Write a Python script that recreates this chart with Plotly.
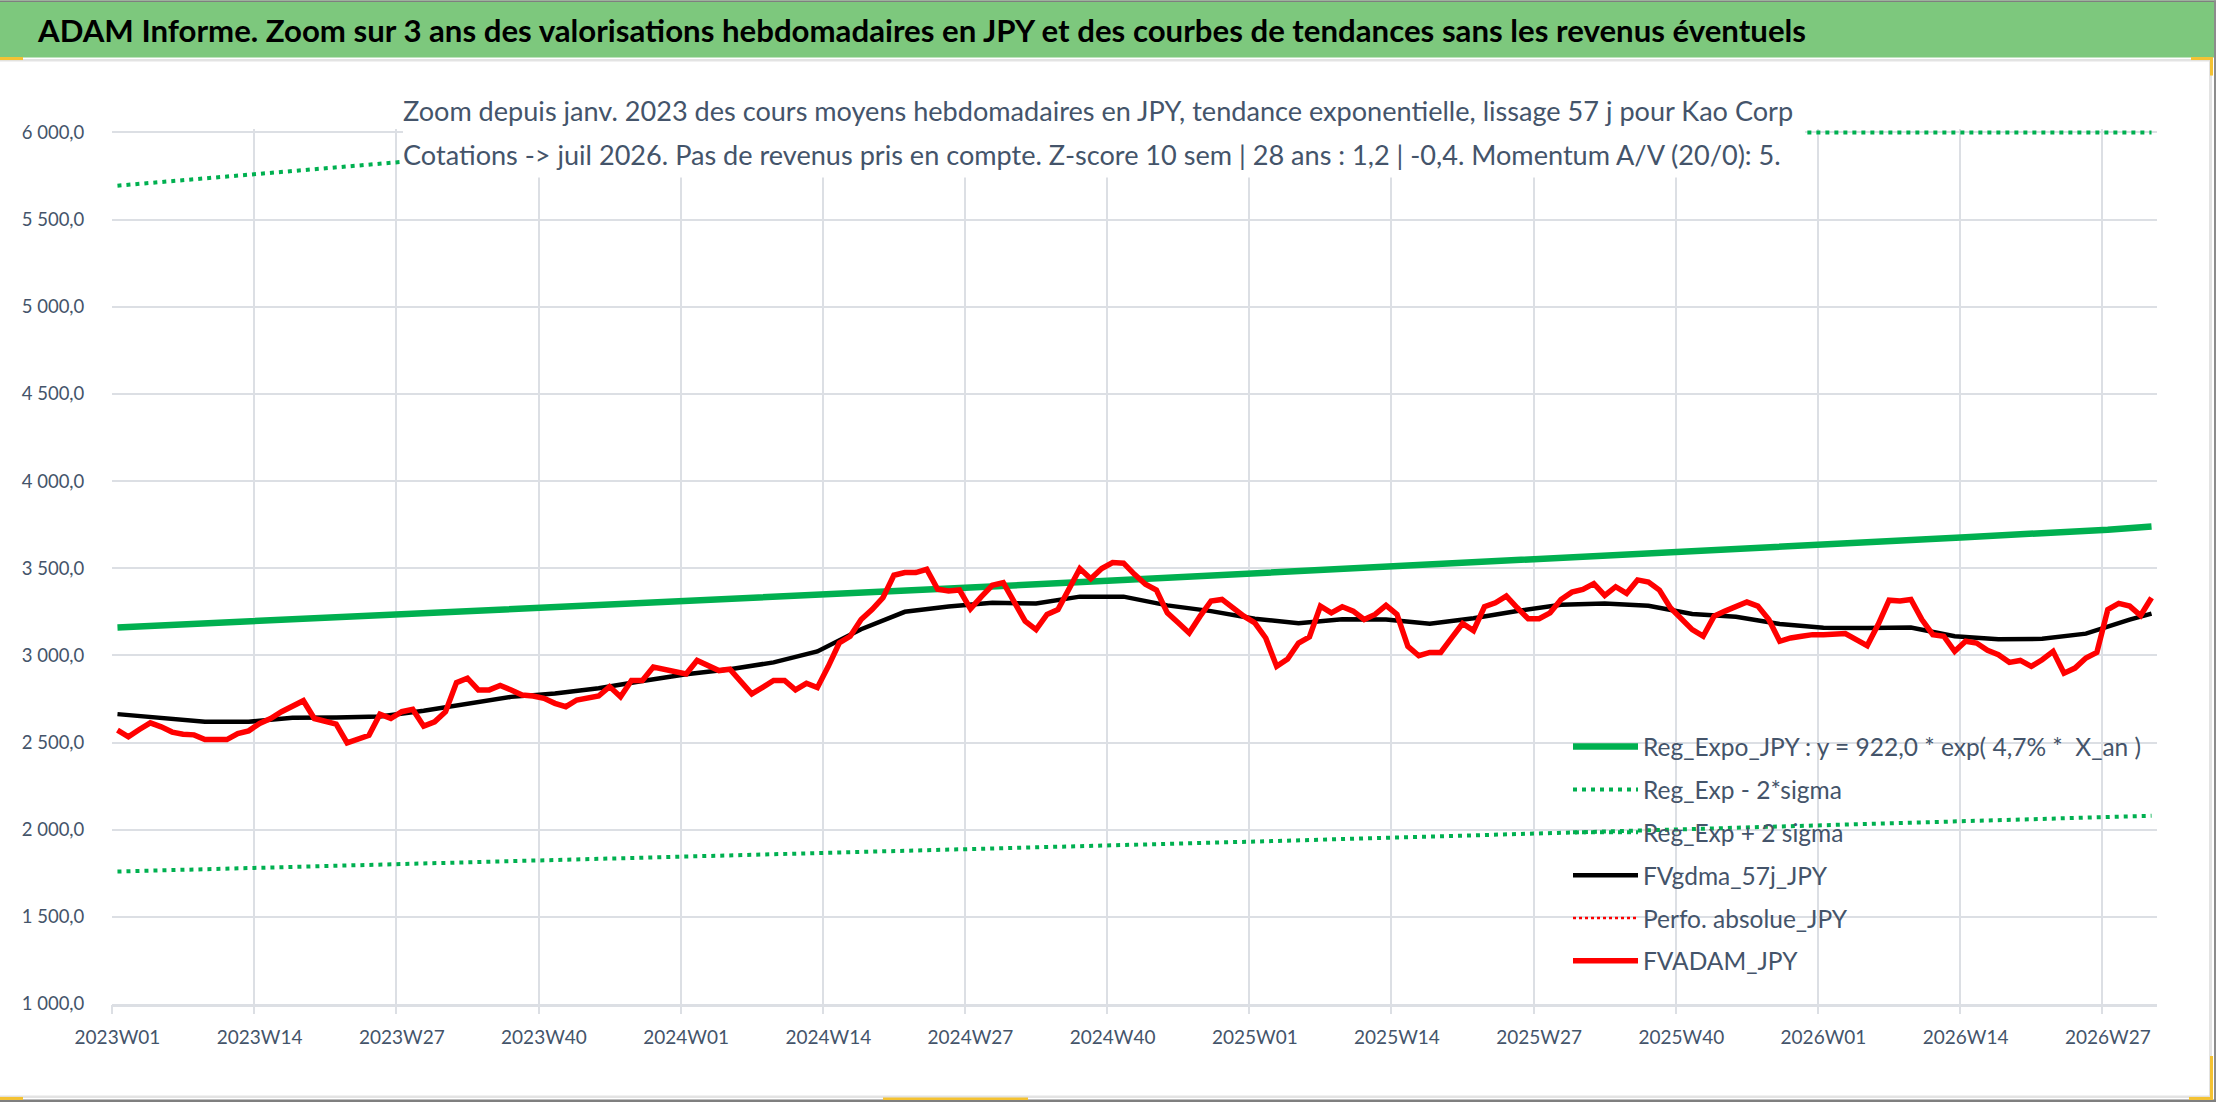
import numpy as np
import plotly.graph_objects as go

# Categories: ISO weeks from 2023W01 to 2026W31
years = [2023, 2024, 2025, 2026]
weeks_per_year = [52, 52, 52, 31]
cats = [f"{y}W{w:02d}" for y, n in zip(years, weeks_per_year) for w in range(1, n + 1)]
tick_cats = cats[::13]

# Weekly FVADAM_JPY (red)
fvadam = [
    2571, 2533, 2575, 2613, 2590, 2560, 2548, 2544, 2517, 2517,
    2517, 2552, 2567, 2610, 2638, 2677, 2713, 2740, 2638, 2619,
    2606, 2498, 2517, 2542, 2663, 2638, 2677, 2690, 2594, 2619,
    2677, 2844, 2869, 2802, 2802, 2827, 2802, 2773, 2767, 2754,
    2725, 2706, 2744, 2754, 2767, 2821, 2763, 2856, 2856, 2933,
    2921, 2913, 2894, 2971, 2940, 2913, 2921, 2850, 2779, 2817,
    2856, 2856, 2802, 2840,
    2815, 2937, 3071, 3110, 3206, 3263, 3331, 3460, 3475, 3475,
    3494, 3379, 3369, 3375, 3267, 3337, 3402, 3417, 3302, 3196,
    3148, 3235, 3263, 3379, 3498, 3440, 3498, 3533, 3529, 3465,
    3408, 3375, 3244, 3187, 3129, 3225, 3312, 3321, 3273, 3225,
    3187, 3100, 2937, 2979, 3071, 3106, 3283, 3244, 3279, 3254,
    3206, 3235, 3287, 3235, 3052, 2998, 3017, 3017, 3100, 3183,
    3142, 3279, 3302, 3340,
    3273, 3210, 3210, 3244, 3321, 3363, 3379, 3412, 3344, 3394,
    3356, 3433, 3421, 3375, 3273, 3206, 3148, 3110, 3225, 3254,
    3283, 3306, 3283, 3206, 3081, 3100, 3110, 3119, 3119, 3125,
    3125, 3090, 3056, 3177, 3317, 3312, 3321, 3206, 3119, 3110,
    3023, 3081, 3071, 3029, 3004, 2960, 2971, 2937, 2975, 3023,
    2898, 2927, 2985, 3017, 3263, 3298, 3283, 3229, 3331,
]

# FVgdma_57j_JPY (black), read every 4 weeks
gdma_weeks = cats[::4] + [cats[-1]]
gdma = [
    2663, 2644, 2619, 2619, 2642, 2644, 2650, 2682, 2722, 2762,
    2782, 2812, 2853, 2892, 2920, 2960, 3023, 3150, 3250, 3280,
    3302, 3298, 3337, 3337, 3287, 3254, 3210, 3185, 3208, 3206,
    3181, 3213, 3255, 3290, 3298, 3285, 3237, 3222, 3180, 3159,
    3157, 3160, 3110, 3092, 3095, 3125, 3205, 3240,
]

# Exponential regression and +/- 2 sigma bands, read every 13 weeks
reg_weeks = cats[::13] + [cats[-1]]
reg_expo = [3160, 3197, 3235, 3273, 3311, 3350, 3389, 3429, 3469, 3510,
            3551, 3593, 3635, 3678, 3721, 3740]
reg_minus = [1760, 1781, 1802, 1823, 1844, 1866, 1888, 1910, 1932, 1955,
             1978, 2001, 2025, 2049, 2073, 2080]
reg_plus = [5695, 5762, 5830, 5899, 5968, 6038, 6109, 6181, 6254, 6327,
            6401, 6476, 6552, 6629, 6707, 6730]

Y_MIN, Y_MAX = 1000, 6000
y_ticks = list(range(1000, 6001, 500))

W, H = 2216, 1102
L, R, T, B = 112, 59, 128.5, 98
PW = W - L - R
PH = H - T - B
TXT = "#44546A"
GRID = "#DCDFE4"
FONT = "Lato"
N = len(cats)
# Excel draws its category gridlines between weeks ("between tick marks")
grid_bounds = [cats.index(c) - 0.5 for c in tick_cats]


def px_x(p):
    return (p - L) / PW


def px_y(p):
    return (H - B - p) / PH


fig = go.Figure()
fig.add_trace(go.Scatter(x=reg_weeks, y=reg_expo, mode="lines",
                         name="Reg_Expo_JPY : y = 922,0 * exp( 4,7% *  X_an )",
                         line=dict(color="#00B050", width=6.5), legendgroup="a"))
fig.add_trace(go.Scatter(x=reg_weeks, y=reg_minus, mode="lines",
                         name="Reg_Exp - 2*sigma",
                         line=dict(color="#00B050", width=4, dash="4px,5px"), legendgroup="b"))
# Excel pins the values above the axis max to the top edge
fig.add_trace(go.Scatter(x=reg_weeks, y=np.minimum(reg_plus, Y_MAX), mode="lines",
                         name="Reg_Exp + 2 sigma",
                         line=dict(color="#00B050", width=4, dash="4px,5px"), legendgroup="c"))
fig.add_trace(go.Scatter(x=gdma_weeks, y=gdma, mode="lines", name="FVgdma_57j_JPY",
                         line=dict(color="#000000", width=4.5), legendgroup="d"))
# no visible data for this one; it sits on the gridline axis
fig.add_trace(go.Scatter(x=[None], y=[None], mode="lines", name="Perfo. absolue_JPY",
                         xaxis="x2", line=dict(color="#FF0000", width=2.5, dash="3px,3px"),
                         legendgroup="e"))
fig.add_trace(go.Scatter(x=cats, y=fvadam, mode="lines", name="FVADAM_JPY",
                         line=dict(color="#FF0000", width=5.5), legendgroup="f"))

shapes = [
    # title bar and frame
    dict(type="rect", x0=px_x(0), x1=px_x(W), y0=px_y(0), y1=px_y(57), fillcolor="#7DC87D", line_width=0),
    dict(type="rect", x0=px_x(0), x1=px_x(W), y0=px_y(0), y1=px_y(1.5), fillcolor="#7F7F7F", line_width=0),
    dict(type="rect", x0=px_x(0), x1=px_x(2210), y0=px_y(58.5), y1=px_y(61), fillcolor="#E3E3E3", line_width=0),
    dict(type="rect", x0=px_x(2209), x1=px_x(2212), y0=px_y(58), y1=px_y(1097), fillcolor="#E3E3E3", line_width=0),
    dict(type="rect", x0=px_x(2214), x1=px_x(W), y0=px_y(0), y1=px_y(H), fillcolor="#8C8C8C", line_width=0),
    dict(type="rect", x0=px_x(0), x1=px_x(2210), y0=px_y(1095.5), y1=px_y(1098), fillcolor="#E3E3E3", line_width=0),
    dict(type="rect", x0=px_x(0), x1=px_x(W), y0=px_y(1099.5), y1=px_y(H), fillcolor="#7F7F7F", line_width=0),
    # Excel selection handles
    dict(type="rect", x0=px_x(0), x1=px_x(23), y0=px_y(56.5), y1=px_y(59.5), fillcolor="#F4C232", line_width=0),
    dict(type="rect", x0=px_x(2191), x1=px_x(2213), y0=px_y(56.5), y1=px_y(59.5), fillcolor="#F4C232", line_width=0),
    dict(type="rect", x0=px_x(2210), x1=px_x(2213), y0=px_y(57), y1=px_y(75), fillcolor="#F4C232", line_width=0),
    dict(type="rect", x0=px_x(0), x1=px_x(23), y0=px_y(1097), y1=px_y(1100), fillcolor="#F4C232", line_width=0),
    dict(type="rect", x0=px_x(883), x1=px_x(1028), y0=px_y(1097.5), y1=px_y(1100), fillcolor="#F4C232", line_width=0),
    dict(type="rect", x0=px_x(2210), x1=px_x(2213), y0=px_y(1056), y1=px_y(1100), fillcolor="#F4C232", line_width=0),
    dict(type="rect", x0=px_x(2189), x1=px_x(2213), y0=px_y(1097), y1=px_y(1100), fillcolor="#F4C232", line_width=0),
    # white box behind the subtitle
    dict(type="rect", x0=px_x(403), x1=px_x(1805), y0=px_y(72), y1=px_y(177), fillcolor="white",
         line_width=0, layer="above"),
]
for s in shapes:
    s.update(xref="paper", yref="paper")
    s.setdefault("layer", "below")

annotations = [
    dict(text="ADAM Informe. Zoom sur 3 ans des valorisations hebdomadaires en JPY et des courbes de tendances sans les revenus éventuels",
         x=px_x(35), y=px_y(29), xanchor="left", yanchor="middle", showarrow=False,
         font=dict(family=FONT, size=31.2, color="#000000", weight="bold")),
    dict(text="Zoom depuis janv. 2023 des cours moyens hebdomadaires en JPY, tendance exponentielle, lissage 57 j pour Kao Corp",
         x=px_x(401), y=px_y(109.5), xanchor="left", yanchor="middle", showarrow=False,
         font=dict(family=FONT, size=27.1, color=TXT)),
    dict(text="Cotations -> juil 2026. Pas de revenus pris en compte. Z-score 10 sem | 28 ans : 1,2 | -0,4. Momentum A/V (20/0): 5.",
         x=px_x(401), y=px_y(154), xanchor="left", yanchor="middle", showarrow=False,
         font=dict(family=FONT, size=27.1, color=TXT)),
]
for a in annotations:
    a.update(xref="paper", yref="paper")

fig.update_layout(
    width=W, height=H,
    margin=dict(l=L, r=R, t=T, b=B, pad=0),
    paper_bgcolor="white", plot_bgcolor="white",
    separators=", ",
    font=dict(family=FONT, size=19, color=TXT),
    shapes=shapes, annotations=annotations,
    showlegend=True,
    legend=dict(x=px_x(1568), y=px_y(724), xanchor="left", yanchor="top",
                bgcolor="rgba(0,0,0,0)", font=dict(size=24.5, color=TXT),
                itemwidth=65, tracegroupgap=8, traceorder="grouped"),
    xaxis=dict(type="category", categoryorder="array", categoryarray=cats,
               range=[-0.5, N - 0.5], tickmode="array", tickvals=tick_cats,
               ticks="outside", ticklen=9, tickcolor="rgba(0,0,0,0)", tickangle=0,
               ticklabelstandoff=5, showgrid=False, zeroline=False,
               showline=True, linecolor=GRID, linewidth=3,
               tickfont=dict(size=19, color=TXT)),
    # linear twin axis that only carries the between-week gridlines and tick marks
    xaxis2=dict(overlaying="x", side="bottom", range=[-0.5, N - 0.5],
                tickmode="array", tickvals=grid_bounds, showticklabels=False,
                ticks="outside", ticklen=9, tickcolor=GRID, tickwidth=2,
                showgrid=True, gridcolor=GRID, gridwidth=2, zeroline=False, showline=False),
    yaxis=dict(range=[Y_MIN, 6020], tickmode="array", tickvals=y_ticks, tickformat=",.1f",
               ticks="outside", ticklen=23, tickcolor="rgba(0,0,0,0)",
               showgrid=True, gridcolor=GRID, gridwidth=2, zeroline=False, showline=False,
               tickfont=dict(size=18.5, color=TXT)),
)

fig.write_html("out.html", config={"displayModeBar": False},
               post_script="document.body.style.margin = '0';")
